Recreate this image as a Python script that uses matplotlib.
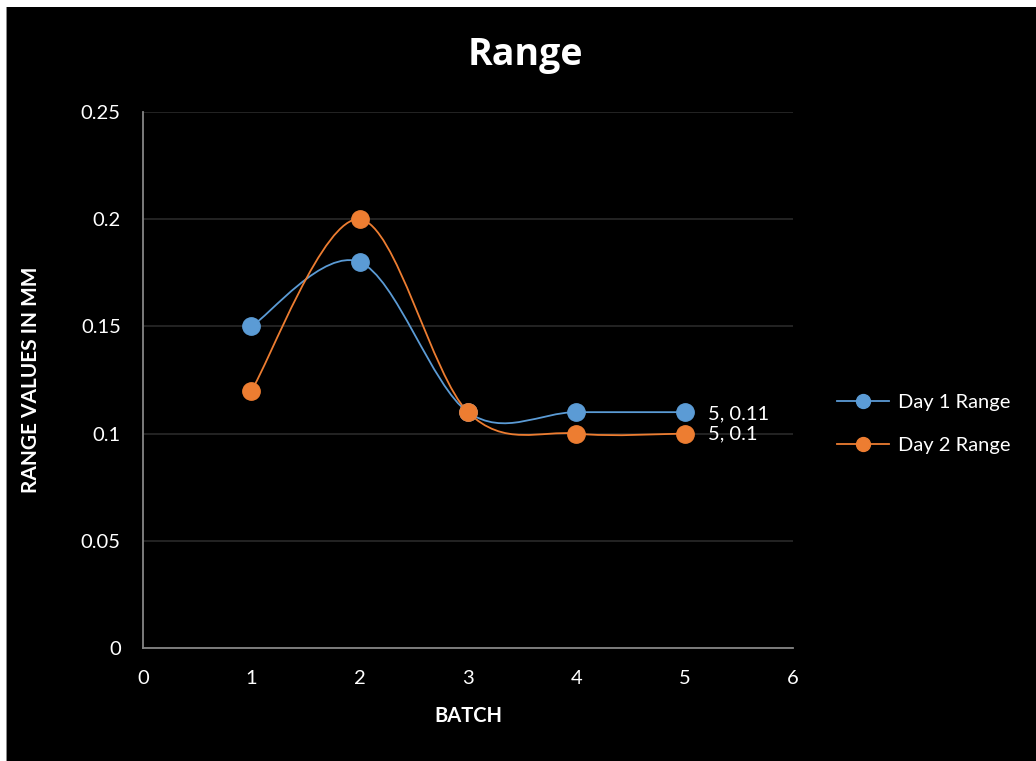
import matplotlib
matplotlib.use("Agg")
import matplotlib.pyplot as plt
from matplotlib.path import Path
from matplotlib.patches import PathPatch, Rectangle
from matplotlib.lines import Line2D

batches = [1, 2, 3, 4, 5]
day1_range = [0.15, 0.18, 0.11, 0.11, 0.11]
day2_range = [0.12, 0.20, 0.11, 0.10, 0.10]
series_names = ["Day 1 Range", "Day 2 Range"]
series_colors = ["#5B9BD5", "#ED7D31"]
x_ticks = [0, 1, 2, 3, 4, 5, 6]
y_ticks = [0, 0.05, 0.1, 0.15, 0.2, 0.25]
y_tick_labels = ["0", "0.05", "0.1", "0.15", "0.2", "0.25"]

plt.rcParams["font.family"] = ["Lato", "DejaVu Sans"]

W, H = 1036, 761
fig = plt.figure(figsize=(W / 100, H / 100), dpi=100, facecolor="black")
ax = fig.add_axes([143 / W, 1 - 648 / H, 650 / W, 536 / H])
ax.set_facecolor("black")

# white frame strip along the top and left edges
fig.patches.append(Rectangle((0, 1 - 7 / H), 1, 7 / H, transform=fig.transFigure,
                             facecolor="white", edgecolor="none", zorder=0))
fig.patches.append(Rectangle((0, 0), 6 / W, 1, transform=fig.transFigure,
                             facecolor="white", edgecolor="none", zorder=0))
fig.patches.append(Rectangle((6 / W, 0), 1 / W, 1 - 7 / H, transform=fig.transFigure,
                             facecolor="#8a8a8a", edgecolor="none", zorder=0))


def smooth_path(xs, ys):
    """Cubic Bezier path through the points (Catmull-Rom style smoothing)."""
    pts = list(zip(xs, ys))
    verts = [pts[0]]
    codes = [Path.MOVETO]
    n = len(pts)
    for i in range(n - 1):
        p0 = pts[i - 1] if i > 0 else pts[i]
        p1 = pts[i]
        p2 = pts[i + 1]
        p3 = pts[i + 2] if i + 2 < n else pts[i + 1]
        c1 = (p1[0] + (p2[0] - p0[0]) / 6, p1[1] + (p2[1] - p0[1]) / 6)
        c2 = (p2[0] - (p3[0] - p1[0]) / 6, p2[1] - (p3[1] - p1[1]) / 6)
        verts += [c1, c2, p2]
        codes += [Path.CURVE4] * 3
    return Path(verts, codes)


for vals, name, col in zip([day1_range, day2_range], series_names, series_colors):
    ax.add_patch(PathPatch(smooth_path(batches, vals), facecolor="none",
                           edgecolor=col, linewidth=1.3, zorder=3))
    ax.plot(batches, vals, linestyle="none", marker="o", markersize=12.5,
            color=col, markeredgecolor=col, zorder=4)

# value labels on the last points
ax.annotate(f"{batches[-1]}, {day1_range[-1]:g}", (batches[-1], day1_range[-1]),
            xytext=(17, -1), textcoords="offset points", color="white",
            fontsize=14.5, va="center", ha="left")
ax.annotate(f"{batches[-1]}, {day2_range[-1]:g}", (batches[-1], day2_range[-1]),
            xytext=(17, 0), textcoords="offset points", color="white",
            fontsize=14.5, va="center", ha="left")

ax.set_xlim(0, 6)
ax.set_ylim(0, 0.25)
ax.set_xticks(x_ticks)
ax.set_yticks(y_ticks)
ax.set_yticklabels(y_tick_labels)
ax.tick_params(colors="white", labelsize=14.5, length=0)
ax.tick_params(axis="x", pad=16)
ax.tick_params(axis="y", pad=16)
ax.grid(axis="y", color="#2a2a2a", linewidth=1.2)
ax.set_axisbelow(True)
for side in ["top", "right"]:
    ax.spines[side].set_visible(False)
for side in ["left", "bottom"]:
    ax.spines[side].set_color("#858585")
    ax.spines[side].set_linewidth(1.3)

ax.set_xlabel("BATCH", color="white", fontsize=14.5, fontweight="bold")
ax.set_ylabel("RANGE VALUES IN MM", color="white", fontsize=15, fontweight="bold")
ax.xaxis.set_label_coords(0.5, -(716 - 648) / 536, transform=ax.transAxes)
ax.yaxis.label.set_va("center")
ax.yaxis.set_label_coords(-(143 - 31) / 650, 0.5, transform=ax.transAxes)
ax.xaxis.label.set_va("center")

fig.text(525 / W, 1 - 55 / H, "Range", color="white", fontsize=27,
         fontweight="bold", ha="center", va="center",
         family=["Open Sans", "DejaVu Sans"])

handles = [Line2D([], [], color=c, marker="o", markersize=10, linewidth=1.3)
           for c in series_colors]
leg = fig.legend(handles, series_names, loc="center left",
                 bbox_to_anchor=(819 / W, 1 - 424 / H), frameon=False,
                 fontsize=14.5, labelcolor="white", handlelength=2.6,
                 labelspacing=1.3, handletextpad=0.4)

fig.savefig("out.png", dpi=100, facecolor="black")
